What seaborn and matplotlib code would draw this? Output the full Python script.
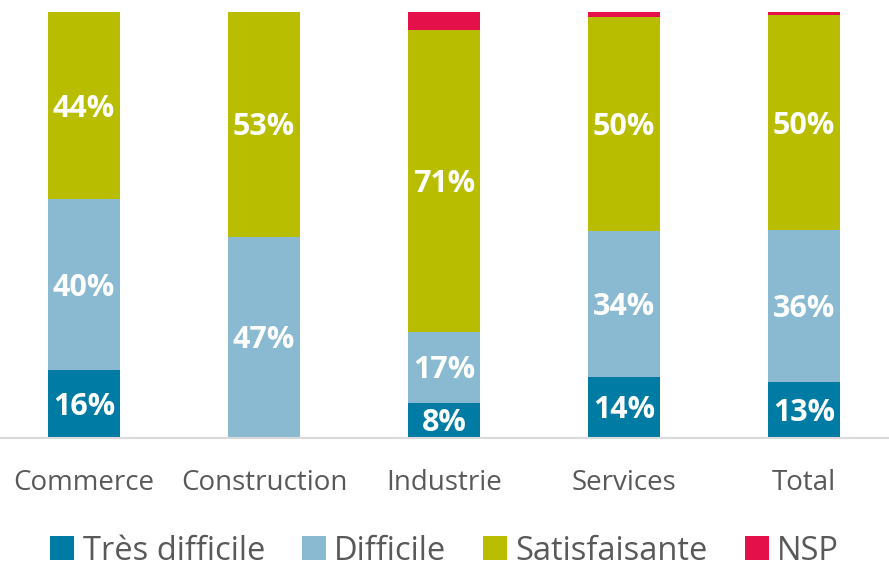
import matplotlib
matplotlib.use("Agg")
import matplotlib.pyplot as plt
import seaborn as sns
import pandas as pd
import numpy as np
from matplotlib.patches import Patch

categories = ["Commerce", "Construction", "Industrie", "Services", "Total"]
tres_difficile = [16.0, 0.0, 8.2, 14.3, 13.1]
difficile = [40.0, 47.2, 16.7, 34.4, 35.7]
satisfaisante = [44.0, 52.8, 70.9, 50.1, 50.4]
nsp = [0.0, 0.0, 4.2, 1.2, 0.8]

series_names = ["Très difficile", "Difficile", "Satisfaisante", "NSP"]
series_values = [tres_difficile, difficile, satisfaisante, nsp]
colors = ["#007BA4", "#89BAD2", "#B8BD00", "#E4104A"]

sns.set_theme(style="white")
plt.rcParams['font.family'] = ['Open Sans', 'DejaVu Sans']

df = pd.DataFrame({"cat": categories})
cum = np.zeros(len(categories))
cums = []
for vals in series_values:
    cum = cum + np.array(vals)
    cums.append(cum.copy())
for name, c in zip(series_names, cums):
    df[name] = c

fig = plt.figure(figsize=(8.89, 5.66), dpi=100)
ax = fig.add_axes([0, 128/566, 1, 426/566])

for name, col in reversed(list(zip(series_names, colors))):
    sns.barplot(data=df, x="cat", y=name, color=col, width=0.4, ax=ax,
                saturation=1, linewidth=0, order=categories)

# value labels
label_size = 22
bottoms = np.zeros(len(categories))
for vals in series_values[:3]:
    for i, v in enumerate(vals):
        if v >= 5:
            ax.annotate(f"{round(v):d}%", xy=(i, bottoms[i] + v / 2),
                        xytext=(0, -label_size * 0.714 / 2), textcoords="offset points",
                        ha="center", va="baseline",
                        color="white", fontsize=label_size, fontweight="bold")
    bottoms = bottoms + np.array(vals)

ax.set_ylim(0, 100)
ax.set_xlim(-84/180, (889-84)/180)
ax.set_xlabel("")
ax.set_ylabel("")
ax.set_yticks([])
for s in ["top", "left", "right"]:
    ax.spines[s].set_visible(False)
ax.spines["bottom"].set_color("#D9D9D9")
ax.spines["bottom"].set_linewidth(1.5)
ax.tick_params(axis="x", length=0, pad=22, labelsize=20, labelcolor="#595959")

handles = [Patch(facecolor=c, edgecolor="none") for c in colors]
fig.legend(handles, series_names, loc="center", bbox_to_anchor=(0.5, 1 - 551/566),
           ncol=4, frameon=False, fontsize=23.5, labelcolor="#595959",
           handlelength=0.75, handleheight=0.75, handletextpad=0.25, columnspacing=1.12)

fig.savefig("out.png", dpi=100)
